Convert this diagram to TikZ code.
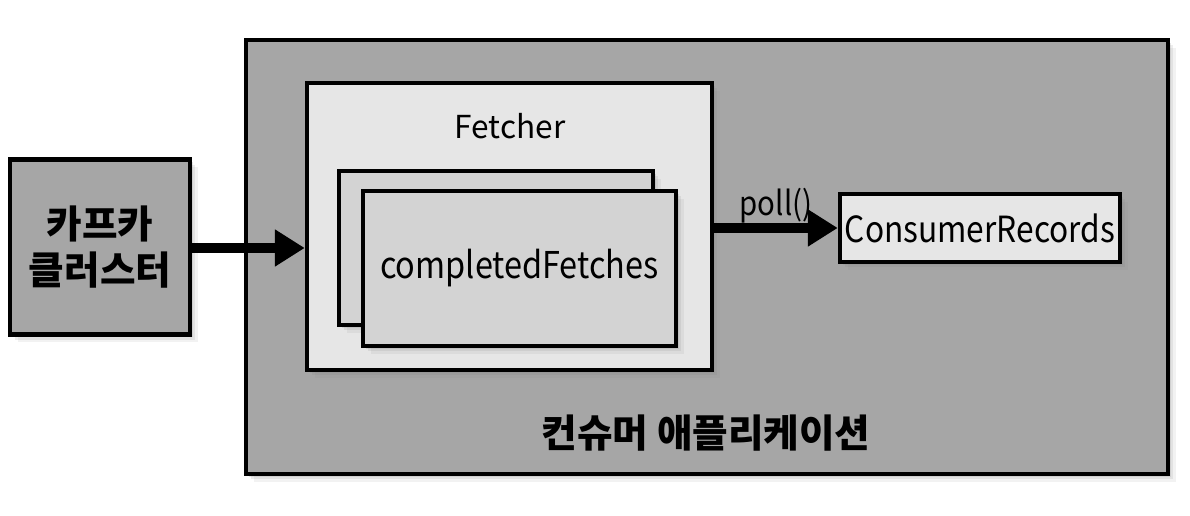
\documentclass[tikz,border=0pt]{standalone}
\usepackage{fontspec}
\setmainfont{Noto Sans CJK KR}
\newfontfamily\narrowfont[FakeStretch=0.88]{Noto Sans CJK KR}
\usetikzlibrary{arrows.meta,shadows}
\definecolor{appgray}{HTML}{A6A6A6}
\definecolor{lightbox}{HTML}{E6E6E6}
\definecolor{midbox}{HTML}{D3D3D3}
\tikzset{
  box/.style={draw, line width=2.6pt, inner sep=0pt,
    drop shadow={shadow xshift=1.5pt, shadow yshift=-1.5pt, opacity=.18},
    drop shadow={shadow xshift=3pt, shadow yshift=-3pt, opacity=.14},
    drop shadow={shadow xshift=4.5pt, shadow yshift=-4.5pt, opacity=.10}},
  flow/.style={line width=5.2pt, -{Triangle[length=17pt,width=20pt]}}
}
\begin{document}
\begin{tikzpicture}[x=0.02cm, y=-0.02cm]
    \useasboundingbox (0,0) rectangle (1190,516);
    % consumer application
    \node[box, fill=appgray, minimum width=18.44cm, minimum height=8.68cm] (app) at (707,257) {};
    \node[font=\fontsize{22}{24}\selectfont\bfseries] (applabel) at (706,433) {컨슈머 애플리케이션};
    % kafka cluster
    \node[box, fill=appgray, minimum width=3.6cm, minimum height=3.5cm, align=center,
      font=\fontsize{22}{26}\selectfont\bfseries] (kafka) at (100,247) {카프카\\클러스터};
    % fetcher
    \node[box, fill=lightbox, minimum width=8.1cm, minimum height=5.74cm] (fetcher) at (509.5,226.5) {};
    \node[font=\fontsize{18}{20}\selectfont] (fetcherlabel) at (510,126) {Fetcher};
    \node[box, fill=midbox, minimum width=6.28cm, minimum height=3.08cm] (back) at (496,248) {};
    \node[box, fill=midbox, minimum width=6.26cm, minimum height=3.1cm,
      font=\narrowfont\fontsize{21}{24}\selectfont] (front) at (519.5,268.5) {completedFetches};
    % records
    \node[box, fill=lightbox, minimum width=5.6cm, minimum height=1.36cm,
      font=\narrowfont\fontsize{20.5}{24}\selectfont] (cr) at (980,228) {ConsumerRecords};
    % arrows
    \draw[flow] (kafka.east |- 0,248) -- (fetcher.west |- 0,248);
    \draw[flow] (fetcher.east |- cr) -- (cr.west)
      node[midway, above=-3pt, font=\narrowfont\fontsize{19}{20}\selectfont] (poll) {poll()};
\end{tikzpicture}
\end{document}
